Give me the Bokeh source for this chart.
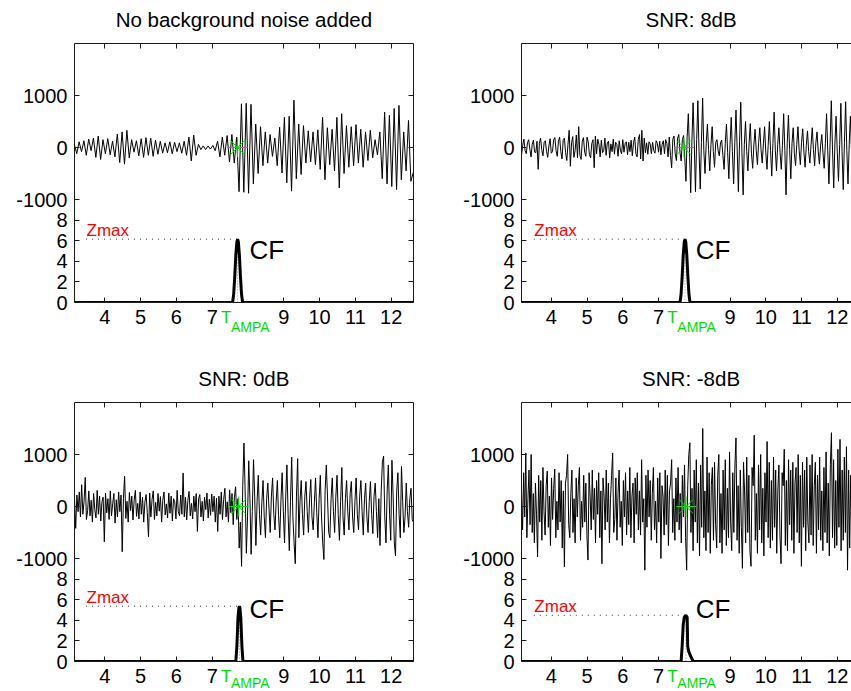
import numpy as np
from bokeh.plotting import figure
from bokeh.layouts import row, column
from bokeh.models import Range1d, LinearAxis, FixedTicker, Label
from bokeh.core.properties import value
from bokeh.embed import file_html
from bokeh.resources import INLINE

FONT = "Liberation Sans"
GREEN = "#00dd00"
RED = "#ff0000"

# ---------------- data ----------------
TITLES = ["No background noise added", "SNR: 8dB", "SNR: 0dB", "SNR: -8dB"]
X_TICKS = [4, 5, 6, 7, 9, 10, 11, 12]
WAVE_TICKS = [-1000, 0, 1000]
CF_TICKS = [0, 2, 4, 6, 8]
XLIM_LEFT = (3.154, 12.623)
XLIM_RIGHT = (3.166, 12.397)
PICK_TICK = 8   # tick whose label reads T_AMPA

# waveform samples (start time, sample step, values)
W1_T0, W1_DT = 3.15, 1 / 15
W1 = [60, -120, 110, -80, 130, -150, 160, -60, 180, -190,
      220, -230, 150, -120, 170, -140, 120, -180, 260, -290,
      300, -320, 330, -200, 150, -90, 130, -160, 170, -190,
      190, -150, 180, -170, 140, -130, 120, -110, 90, -100,
      110, -120, 100, -80, 90, -110, 120, -150, 200, -260,
      240, -150, 60, -40, 30, -40, 30, -30, 40, -60,
      120, -180, 200, -150, 230, -280, 250, -300, 200, -850,
      840, -860, 850, -880, 830, -700, 450, -500, 400, -350,
      300, -300, 250, -170, 180, -350, 390, -490, 580, -680,
      600, -840, 910, -600, 450, -520, 420, -300, 320, -280,
      300, -330, 340, -420, 580, -620, 380, -330, 350, -450,
      580, -780, 650, -500, 420, -380, 400, -350, 440, -300,
      350, -380, 300, -250, 330, -200, 150, -140, 300, -600,
      680, -700, 620, -750, 750, -810, 810, -620, 300, -450,
      520, -650, -480]

W2_T0, W2_DT = 3.166, 1 / 30
W2 = [-150, 40, 160, -60, -120, 90, 150, -30, -180, 60, 140, -90, -100, 120, -420,
      80, 180, -40, -160, 100, 130, -70, -190, 30, 170, -110, -80, 150, 190, -60,
      -170, 120, 200, -80, -220, 150, 180, -100, -250, 60, 330, -360, 90, 210, -190,
      -60, 240, -200, 400, -150, -230, 120, 190, -90, -170, 200, 110, -140, -200, 80,
      150, -390, 220, -120, 160, 60, -180, 140, -100, -60, 180, -150, 90, 120, -200,
      70, -80, 160, -130, 100, 60, -170, 130, -50, -120, 150, -90, 80, 110, -140,
      100, -80, 140, -160, 90, 200, -120, -180, 150, 250, -220, 330, -260, 180, -100,
      90, -130, 110, 70, -120, 100, -60, -110, 130, 80, -90, 120, -140, 60, 130,
      -120, 150, 80, -180, 200, -150, -390, 160, 220, -120, -250, 180, 250, -100, -260,
      150, 230, -200, -650, 200, 650, -100, -870, 120, 860, 50, -850, 150, 900, -80,
      -800, 100, 950, -60, -500, 80, 450, -40, -450, 60, 400, -80, -380, 100, 150,
      -60, -160, 90, 140, -150, -420, 80, 450, -100, -600, 60, 580, -80, -700, 100,
      720, -50, -850, 120, 870, -100, -910, 60, 500, -80, -450, 90, 460, -120, -400,
      50, 350, -60, -330, 100, 380, -40, -300, 70, 400, -90, -420, 40, 500, -60,
      -550, 80, 680, -50, -450, 60, 380, -100, -420, 40, 650, -60, -910, 90, 620,
      -40, -600, 80, 380, -120, -350, 60, 400, -50, -330, 100, 360, -90, -380, 40,
      320, -80, -300, 60, 380, -40, -350, 90, 300, -70, -320, 40, 250, -100, -400,
      80, 650, -60, -700, 100, 900, -50, -780, 70, 600, -90, -650, 60, 850, -80,
      -810, 100, 880, -60, -700, 50, 600, -100]

W3_T0, W3_DT = 3.154, 1 / 30
W3 = [150, -420, 220, -100, 280, -200, 420, -150, 100, 560, -250, -80, 300, -180, 120,
      -300, 250, -60, -220, 310, -150, 200, -280, 90, 180, -680, 260, -120, 150, -250,
      300, -180, 50, 250, -320, 130, -200, 280, -100, 220, -870, 150, 580, -230, 100,
      -300, 270, -80, 200, -260, 120, 310, -190, 60, -240, 280, -150, 180, -300, 90,
      230, -120, -580, 260, -200, 140, 300, -250, 80, -180, 250, -90, 190, -300, 120,
      280, -160, 50, -220, 260, -130, 200, -280, 150, 90, -240, 310, -100, -180, 220,
      -150, 645, -200, 180, -260, 120, 290, -180, 60, -240, 200, -100, 250, -480, 150,
      230, -200, 100, -280, 180, -60, 260, -220, 140, -170, 240, -100, 200, -300, 160,
      -480, 200, -150, 280, -250, 130, 350, -200, 90, -300, 320, -120, 250, -350, 180,
      380, -250, 150, -800, -300, -1150, 400, 1220, 300, -900, -200, 880, 150, -920, -100,
      900, 200, -750, 100, 600, -150, -550, 80, 500, -200, -600, 150, 450, -50, -500,
      200, 550, -150, -450, 100, 500, -180, -600, 120, 650, -100, -700, 200, 800, -150,
      -850, 100, 950, -200, -700, -1100, 200, 920, -600, 100, 500, -150, -550, 200, 480,
      -100, -500, 150, 520, -200, -450, 80, 550, -120, -600, 150, 600, -200, -700, -1020,
      300, 800, 200, -500, -600, 150, 550, -100, -500, 200, 600, -150, -650, 100, 750,
      -200, -550, 150, 500, -100, -450, 250, 480, -200, -500, 100, 550, -150, -450, 200,
      500, -100, -550, 150, 450, -200, -500, 100, 480, -150, -520, 200, 450, -100, -600,
      150, -750, 300, 850, 970, -200, -700, 300, 800, -150, -650, 890, 200, -700, -950,
      300, 650, -150, -600, 770, 100, -500, -200, 450, -100, -400, 150, 350, -250, -300]

W4_T0, W4_DT = 3.166, 0.03
W4 = [300, -450, 650, -200, 1030, -600, 150, 700, -350, 1000,
      -500, 250, -700, 450, -150, -970, 600, -300, 500, -650,
      750, -100, -550, 400, 680, -400, 200, -750, 550, -250,
      350, 720, -600, 100, -450, 650, -300, 500, -800, 300,
      -1160, 450, 600, 1000, -350, -600, 250, 700, -500, 150,
      -700, 550, -200, 400, 750, -650, 100, -400, 600, -300,
      450, -550, -1030, 650, 200, -450, 700, -250, 350, -700,
      500, -150, 650, -600, 300, -1100, 550, 200, -450, 700,
      -300, 450, -700, 150, 600, 1030, -500, -250, 550, -650,
      250, 700, -400, 100, -750, 500, -200, 650, -550, 300,
      -350, 750, -600, 200, 450, -700, 550, -150, 650, -450,
      300, -550, 900, -300, 150, -1225, 600, -400, 700, -200,
      500, -650, 250, 750, -450, 100, -700, 550, -300, 650,
      -1000, 400, 200, -550, 700, -350, 600, -750, 300, 450,
      900, -500, 150, -650, 550, -300, 750, -450, 250, -700,
      600, -200, 800, -600, -1225, 400, 1000, 1225, -500, 350,
      -850, 700, -300, 900, -700, 450, -950, 800, -400, 1500,
      -600, 300, -850, 950, -500, 650, -900, 400, 750, -650,
      850, -350, -800, 600, 1000, -700, 250, -900, 700, -450,
      900, -750, 350, -600, 1050, -300, -850, 650, -500, 800,
      1320, -650, 400, -900, 700, -400, -1190, 850, 300, -700,
      950, -500, 600, -850, -1150, 750, 400, 1370, -650, 250,
      -900, 800, -450, 1000, -700, 350, -950, 650, -300, 1250,
      -600, 850, -800, 500, -650, 950, -400, 700, -900, 300,
      800, -550, -1100, 650, 400, 1100, -750, 500, -850, 900,
      -350, 700, -650, 850, -900, 450, 750, -500, 1000, -700,
      600, -1150, 850, -400, 700, -850, 950, -300, -700, 800,
      -550, 1000, -750, 400, 850, -900, 600, -450, 950, -650,
      300, -850, 750, -500, 1050, -700, 450, -950, 800, 1420,
      -600, 900, -800, 500, -750, 1100, -400, 1290, -850, 700,
      -650, 950, -500, 1150, -1225, 700, -800, 600, -400]

# characteristic functions
CF1_T = [3.154, 7.57, 7.60, 7.63, 7.66, 7.69, 7.71, 7.73, 7.76, 7.79, 7.82, 7.85, 12.623]
CF1_V = [0, 0, 0.8, 2.5, 4.6, 5.9, 6.15, 5.9, 4.6, 2.5, 0.8, 0, 0]
CF2_T = [3.166, 7.60, 7.63, 7.66, 7.69, 7.72, 7.74, 7.76, 7.79, 7.82, 7.85, 7.88, 12.397]
CF2_V = [0, 0, 0.8, 2.5, 4.6, 5.9, 6.15, 5.9, 4.6, 2.5, 0.8, 0, 0]
CF3_T = [3.154, 7.66, 7.69, 7.72, 7.745, 7.76, 7.775, 7.80, 7.83, 7.86, 12.623]
CF3_V = [0, 0, 1.5, 4.2, 5.2, 5.37, 5.2, 4.2, 1.5, 0, 0]
CF4_T = [3.166, 7.63, 7.66, 7.69, 7.72, 7.765, 7.80, 7.815, 7.84, 7.90, 7.97, 12.397]
CF4_V = [0, 0, 1.5, 3.6, 4.3, 4.49, 4.3, 1.5, 1.0, 0.5, 0, 0]

ZMAX = [6.15, 6.15, 5.37, 4.49]
ZMAX_START = [3.475, 3.51, 3.475, 3.51]
T_PEAK = [7.71, 7.74, 7.76, 7.765]
T_PICK = [7.71, 7.71, 7.74, 7.77]

# ---------------- layout geometry ----------------
FRAME_H = 259
LOWER_H = 103
UPPER_H = FRAME_H - LOWER_H
CF_TOP = 10.0 * FRAME_H / LOWER_H
W_TOP = 2000.0
W_BOTTOM = -1000.0 - 3000.0 * LOWER_H / UPPER_H
PX_PER_CF = FRAME_H / CF_TOP


def cf_of_wave(v):
    return (v - W_BOTTOM) / (W_TOP - W_BOTTOM) * CF_TOP


def style_axis(ax, labels, standoff=7):
    ax.major_tick_in = 5
    ax.major_tick_out = 0
    ax.minor_tick_in = 0
    ax.minor_tick_out = 0
    ax.axis_line_color = "#1a1a1a"
    ax.axis_line_width = 1
    ax.major_tick_line_color = "#1a1a1a"
    ax.major_label_text_font = FONT
    ax.major_label_text_font_size = "20px" if labels else "1px"
    ax.major_label_text_color = "black" if labels else None
    ax.major_label_standoff = standoff


def make_panel(k, xr, fw, left, right, top, bottom, has_right, title_x, sub_drop,
               wave, cf_t, cf_v):
    p = figure(frame_width=fw, frame_height=FRAME_H,
               x_range=Range1d(*xr), y_range=Range1d(0, CF_TOP),
               x_axis_type=None, y_axis_type=None,
               toolbar_location=None, output_backend="svg",
               min_border_left=left, min_border_right=right,
               min_border_top=top, min_border_bottom=bottom)
    p.extra_y_ranges = {"wave": Range1d(W_BOTTOM, W_TOP)}
    p.outline_line_color = None
    p.background_fill_color = "white"
    p.border_fill_color = "white"

    wticks = [round(cf_of_wave(v), 6) for v in WAVE_TICKS]
    yticks = CF_TICKS + wticks
    overrides = {wt: str(v) for wt, v in zip(wticks, WAVE_TICKS)}

    ly = LinearAxis(ticker=FixedTicker(ticks=yticks), major_label_overrides=overrides)
    style_axis(ly, True)
    p.add_layout(ly, "left")
    if has_right:
        ry = LinearAxis(ticker=FixedTicker(ticks=yticks))
        style_axis(ry, False, standoff=0)
        p.add_layout(ry, "right")
    xt = [t for t in X_TICKS if xr[0] < t < xr[1]]
    ta = LinearAxis(ticker=FixedTicker(ticks=xt))
    style_axis(ta, False, standoff=0)
    p.add_layout(ta, "above")
    ba = LinearAxis(ticker=FixedTicker(ticks=xt))
    style_axis(ba, True, standoff=7)
    p.add_layout(ba, "below")

    t0, dt, vals = wave
    tt = t0 + dt * np.arange(len(vals))
    p.line(tt, vals, y_range_name="wave", line_color="black", line_width=1)

    p.line([ZMAX_START[k], T_PEAK[k]], [ZMAX[k], ZMAX[k]], line_color="#333333",
           line_width=1, line_dash="1 5")
    p.line([T_PEAK[k], T_PEAK[k]], [0, ZMAX[k]], line_color="#888888",
           line_width=1, line_dash="1 2")
    p.line(cf_t, cf_v, line_color="black", line_width=3)

    p.scatter([T_PICK[k]], [0], y_range_name="wave", marker="asterisk", size=20,
              line_color=GREEN, line_width=1)

    p.add_layout(Label(x=ZMAX_START[k] + 0.015, y=ZMAX[k] + 0.85, text="Zmax",
                       text_align="left", text_baseline="alphabetic",
                       text_font=FONT, text_font_size="17px", text_color=RED))
    p.add_layout(Label(x=8.04, y=5.05, text="CF", text_align="left",
                       text_baseline="alphabetic", text_font=FONT,
                       text_font_size="26px", text_color="black"))

    # panel title above the frame
    p.text(x=[title_x], y=[CF_TOP + 24 / PX_PER_CF], text=[TITLES[k]],
           text_align="center", text_baseline="alphabetic", text_font=value(FONT),
           text_font_size="20.5px", text_color="black", level="overlay")
    # green T_AMPA tick label (T with subscript AMPA), drawn outside the frame
    p.text(x=[PICK_TICK], y=[-14.5 / PX_PER_CF], text=["T"], x_offset=-27,
           text_align="left", text_baseline="alphabetic", text_font=value(FONT),
           text_font_size="17px", text_color=GREEN, level="overlay")
    p.text(x=[PICK_TICK], y=[-sub_drop / PX_PER_CF], text=["AMPA"], x_offset=-17,
           text_align="left", text_baseline="alphabetic", text_font=value(FONT),
           text_font_size="14px", text_color=GREEN, level="overlay")
    return p


p1 = make_panel(0, XLIM_LEFT, 339, 74, 20, 43, 40, True, 7.885, 24.5,
                (W1_T0, W1_DT, W1), CF1_T, CF1_V)
p2 = make_panel(1, XLIM_RIGHT, 330, 88, 0, 43, 40, False, 7.91, 24.5,
                (W2_T0, W2_DT, W2), CF2_T, CF2_V)
p3 = make_panel(2, XLIM_LEFT, 339, 74, 20, 60, 30, True, 7.885, 21.5,
                (W3_T0, W3_DT, W3), CF3_T, CF3_V)
p4 = make_panel(3, XLIM_RIGHT, 330, 88, 0, 60, 30, False, 7.91, 21.5,
                (W4_T0, W4_DT, W4), CF4_T, CF4_V)

layout = column(row(p1, p2), row(p3, p4))
open("out.html", "w").write(file_html(layout, INLINE))
